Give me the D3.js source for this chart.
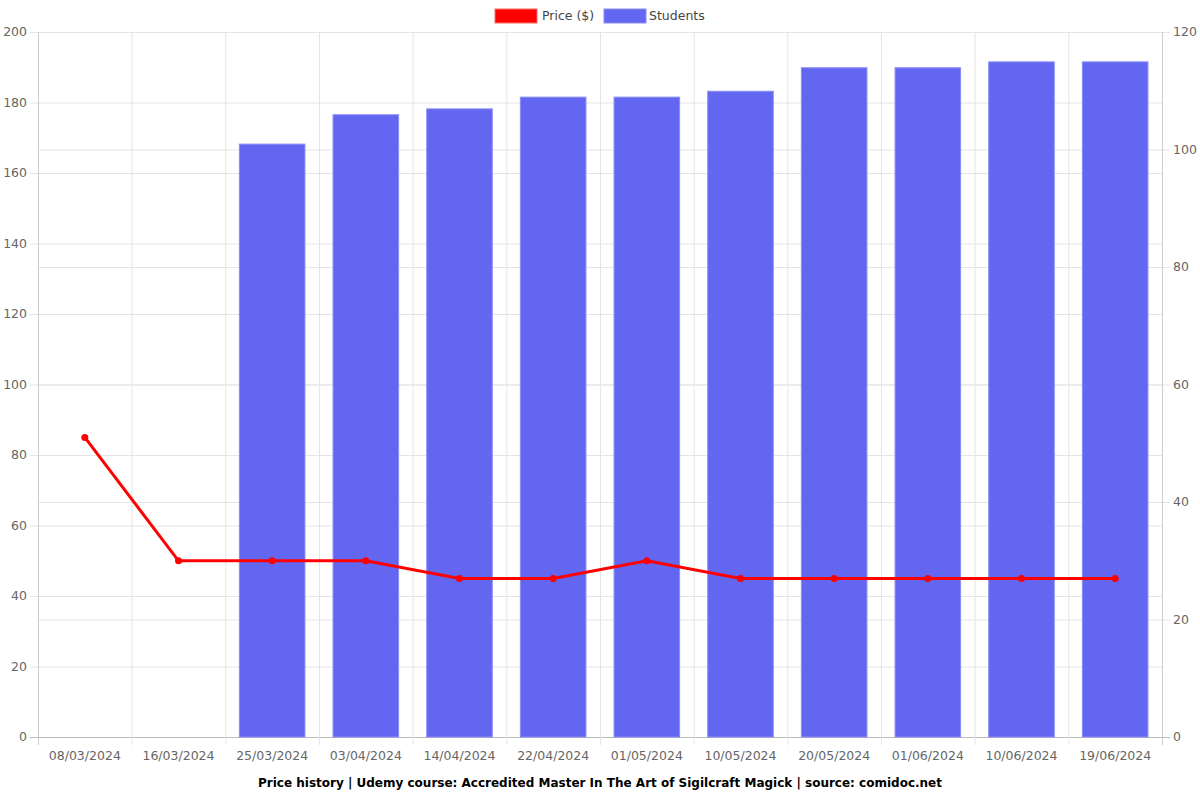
<!DOCTYPE html>
<html>
<head>
<meta charset="utf-8">
<script src="https://cdn.jsdelivr.net/npm/d3@7"></script>
<style>
  body { margin: 0; background: #fff; }
  text { font-family: "DejaVu Sans", sans-serif; }
</style>
</head>
<body>
<div id="chart"></div>
<script>
// data
const dates = ["08/03/2024","16/03/2024","25/03/2024","03/04/2024","14/04/2024","22/04/2024",
  "01/05/2024","10/05/2024","20/05/2024","01/06/2024","10/06/2024","19/06/2024"]
const prices = [84.99, 49.99, 49.99, 49.99, 44.99, 44.99, 49.99, 44.99, 44.99, 44.99, 44.99, 44.99]
const students = [null, null, 101, 106, 107, 109, 109, 110, 114, 114, 115, 115]
const priceTicks = d3.range(0, 201, 20)
const studentTicks = d3.range(0, 121, 20)

const width = 1200, height = 800
const margin = {top: 32, right: 38, bottom: 63, left: 38}

const svg = d3.select("#chart").append("svg")
    .attr("width", width).attr("height", height)

const x = d3.scaleBand().domain(dates)
    .range([margin.left, width - margin.right])
const yL = d3.scaleLinear().domain([0, 200]).range([height - margin.bottom, margin.top])
const yR = d3.scaleLinear().domain([0, 120]).range([height - margin.bottom, margin.top])

const grid = svg.append("g")
//horizontal grid, both axes
grid.selectAll("line.gl").data(priceTicks).enter().append("line")
    .attr("x1", margin.left - 8).attr("x2", width - margin.right)
    .attr("y1", d => yL(d) + 0.5).attr("y2", d => yL(d) + 0.5)
    .attr("stroke", d => d === 0 ? "#bbb" : "#e5e5e5")
grid.selectAll("line.gr").data(studentTicks).enter().append("line")
    .attr("x1", margin.left).attr("x2", width - margin.right + 8)
    .attr("y1", d => yR(d) + 0.5).attr("y2", d => yR(d) + 0.5)
    .attr("stroke", d => d === 0 ? "#bbb" : "#e5e5e5")
//vertical grid at category edges
const edges = dates.map(d => x(d)).concat([width - margin.right])
grid.selectAll("line.v").data(edges).enter().append("line")
    .attr("x1", d => d + 0.5).attr("x2", d => d + 0.5)
    .attr("y1", margin.top).attr("y2", height - margin.bottom + 8)
    .attr("stroke", (d, i) => (i === 0 || i === edges.length - 1) ? "#ccc" : "#e5e5e5")

//bars
const bw = x.bandwidth() * 0.70
svg.append("g").selectAll("rect").data(dates.map((d, i) => [d, students[i]]).filter(d => d[1] != null))
    .enter().append("rect")
    .attr("x", d => x(d[0]) + (x.bandwidth() - bw) / 2)
    .attr("y", d => yR(d[1]) + 0.5)
    .attr("width", bw)
    .attr("height", d => yR(0) - yR(d[1]) - 0.5)
    .attr("fill", "#6366f1")
    .attr("stroke", "#8a8cf5").attr("stroke-width", 1)

//price line
const cx = d => x(d) + x.bandwidth() / 2
const line = d3.line().x((d, i) => cx(dates[i])).y(d => yL(d))
svg.append("path").datum(prices)
    .attr("d", line)
    .attr("fill", "none")
    .attr("stroke", "#ff0000")
    .attr("stroke-width", 3)
svg.append("g").selectAll("circle").data(prices).enter().append("circle")
    .attr("cx", (d, i) => cx(dates[i]))
    .attr("cy", d => yL(d))
    .attr("r", 3.5)
    .attr("fill", "#ff0000")

//axis labels
svg.append("g").selectAll("text").data(priceTicks).enter().append("text")
    .attr("x", margin.left - 11).attr("y", d => yL(d))
    .attr("dy", "0.35em").attr("text-anchor", "end")
    .attr("font-size", 12.5).attr("fill", "#666")
    .text(d => d)
svg.append("g").selectAll("text").data(studentTicks).enter().append("text")
    .attr("x", width - margin.right + 11).attr("y", d => yR(d))
    .attr("dy", "0.35em").attr("text-anchor", "start")
    .attr("font-size", 12.5).attr("fill", "#666")
    .text(d => d)
svg.append("g").selectAll("text").data(dates).enter().append("text")
    .attr("x", d => cx(d)).attr("y", height - margin.bottom + 23)
    .attr("text-anchor", "middle")
    .attr("font-size", 12.5).attr("fill", "#666")
    .text(d => d)

//title
svg.append("text")
    .attr("x", width / 2).attr("y", 787)
    .attr("text-anchor", "middle")
    .attr("font-size", 12).attr("font-weight", "bold").attr("fill", "#000")
    .text("Price history | Udemy course: Accredited Master In The Art of Sigilcraft Magick | source: comidoc.net")

//legend
const legend = [
    {label: "Price ($)", fill: "#ff0000", stroke: "#ff6b6b", x: 495, tx: 542},
    {label: "Students", fill: "#6366f1", stroke: "#8a8cf5", x: 604, tx: 649}
]
const lg = svg.append("g").selectAll("g").data(legend).enter().append("g")
lg.append("rect")
    .attr("x", d => d.x).attr("y", 9).attr("width", 42).attr("height", 14)
    .attr("fill", d => d.fill).attr("stroke", d => d.stroke)
lg.append("text")
    .attr("x", d => d.tx).attr("y", 16).attr("dy", "0.35em")
    .attr("font-size", 12.5).attr("fill", "#444")
    .text(d => d.label)
</script>
</body>
</html>
